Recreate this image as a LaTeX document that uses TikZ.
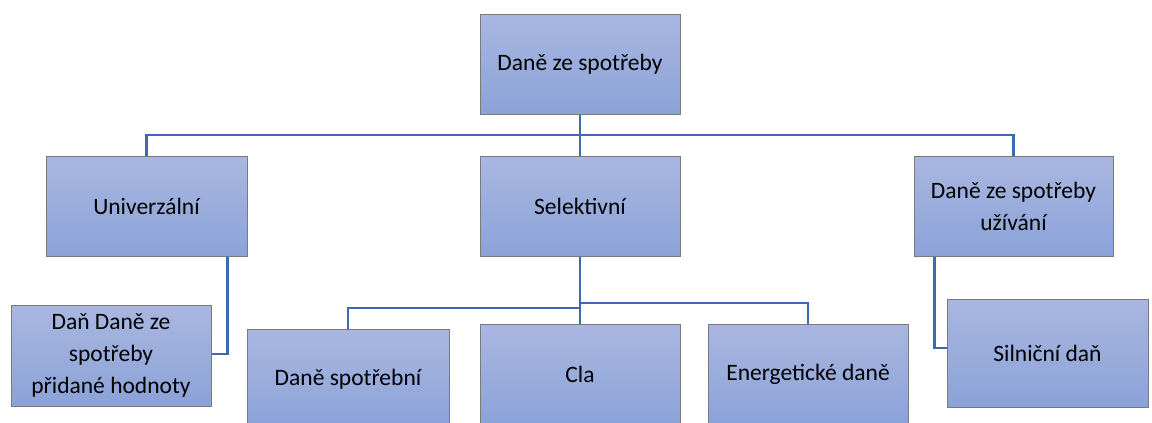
\documentclass[tikz,border=0pt]{standalone}
\usepackage{fontspec}
\setmainfont{Carlito}
\definecolor{boxtop}{HTML}{A9B7E0}
\definecolor{boxbot}{HTML}{8BA2D8}
\definecolor{boxline}{HTML}{7A7A7A}
\definecolor{conncol}{HTML}{3F68B3}
\begin{document}
\begin{tikzpicture}[x=1pt,y=-1pt,
  box/.style={draw=boxline, line width=1pt, top color=boxtop, bottom color=boxbot,
    minimum width=200pt, minimum height=100pt, align=center, inner sep=2pt,
    font=\fontsize{23.5}{32}\selectfont},
  conn/.style={draw=conncol, line width=2.6pt}]
\useasboundingbox (0,0) rectangle (1152,423);
\clip (0,0) rectangle (1152,423);
\fill[white] (0,0) rectangle (1152,423);
% connectors first (under boxes)
\coordinate (bus) at (580,135);
\coordinate (jl) at (580,308);
\coordinate (jr) at (580,303);
\node[box] (top) at (580,64) {Daně ze spotřeby};
\node[box, minimum width=201pt] (univ) at (146.5,206) {Univerzální};
\node[box] (sel) at (580,206) {Selektivní};
\node[box, minimum width=199pt] (uz) at (1013.5,206) {Daně ze spotřeby\\užívání};
\node[box, minimum height=101pt] (dan) at (111,355.5) {Daň Daně ze\\spotřeby\\přidané hodnoty};
\node[box, minimum width=202pt] (spot) at (348,379) {Daně spotřební};
\node[box] (cla) at (580,374) {Cla};
\node[box] (ener) at (808,374) {Energetické daně};
\node[box, minimum width=201pt, minimum height=108pt] (siln) at (1047.5,353) {Silniční daň};
\begin{scope}[on background layer/.try]
\end{scope}
\draw[conn] (top.south) -- (sel.north);
\draw[conn] (univ.north) |- (bus) -| (uz.north);
\draw[conn] (sel.south) -- (cla.north);
\draw[conn] (jl) -| (spot.north);
\draw[conn] (jr) -| (ener.north);
\draw[conn] ([xshift=-20pt]univ.south east) |- ([yshift=1.5pt]dan.east);
\draw[conn] ([xshift=21pt]uz.south west) |- ([yshift=5pt]siln.west);
\end{tikzpicture}
\end{document}
